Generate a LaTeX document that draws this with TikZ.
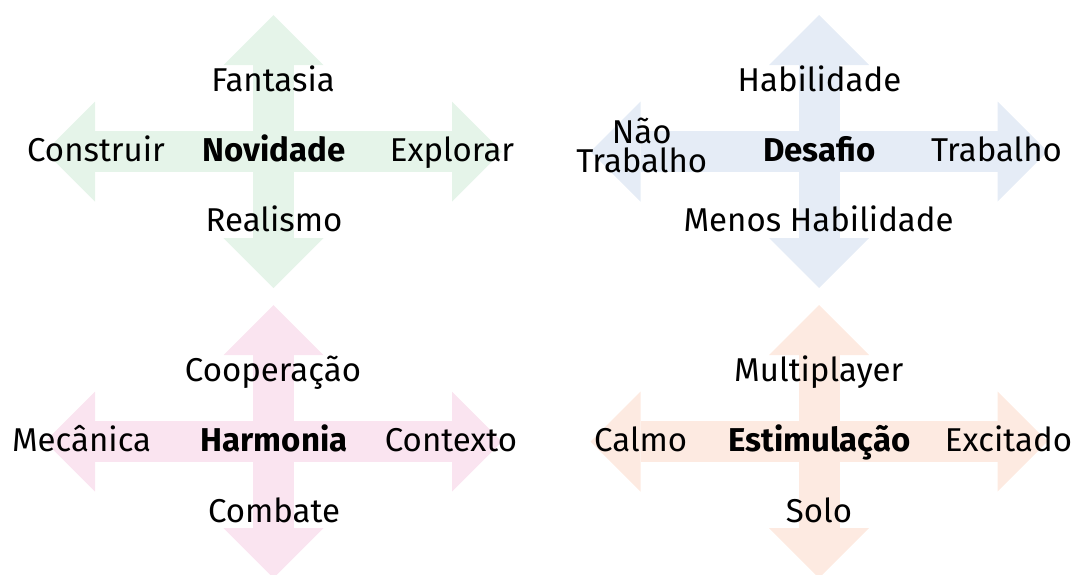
\documentclass[tikz,border=0pt]{standalone}
\usepackage{fontspec}
\setmainfont{Fira Sans}
\usetikzlibrary{arrows.meta}

\definecolor{novgreen}{RGB}{229,244,233}
\definecolor{desblue}{RGB}{229,236,246}
\definecolor{harpink}{RGB}{250,228,240}
\definecolor{estorange}{RGB}{253,234,225}

\begin{document}
\begin{tikzpicture}[x=0.5pt,y=-0.5pt, every node/.style={font=\fontsize{16.5}{14.4}\selectfont, inner sep=0pt, anchor=base}]
			\tikzstyle{bigarrow} = [line width=20.5pt, {Triangle[length=25pt,width=50pt,line width=0pt]}-{Triangle[length=25pt,width=50pt,line width=0pt]}]
			\tikzstyle{title} = [font=\fontsize{16.5}{14.4}\selectfont\bfseries]
			
			\clip (0,0) rectangle (1072,574);
			
			\coordinate (A1) at (45,151.5);
			\coordinate (A2) at (502,151.5);
			\coordinate (A3) at (273.5,15);
			\coordinate (A4) at (273.5,288);
			\coordinate (B1) at (590.5,151.5);
			\coordinate (B2) at (1047.5,151.5);
			\coordinate (B3) at (819,15);
			\coordinate (B4) at (819,288);
			\coordinate (C1) at (45,441.5);
			\coordinate (C2) at (502,441.5);
			\coordinate (C3) at (273.5,305);
			\coordinate (C4) at (273.5,578);
			\coordinate (D1) at (590.5,441.5);
			\coordinate (D2) at (1047.5,441.5);
			\coordinate (D3) at (819,305);
			\coordinate (D4) at (819,578);
			
			\draw [bigarrow, novgreen] (A1) -- (A2);
			\draw [bigarrow, novgreen] (A3) -- (A4);
			\draw [bigarrow, desblue] (B1) -- (B2);
			\draw [bigarrow, desblue] (B3) -- (B4);
			\draw [bigarrow, harpink] (C1) -- (C2);
			\draw [bigarrow, harpink] (C3) -- (C4);
			\draw [bigarrow, estorange] (D1) -- (D2);
			\draw [bigarrow, estorange] (D3) -- (D4);
			
			
			\node [title] (A0) at (274,161.5) {Novidade};
			\node (At) at (273,91.7) {Fantasia};
			\node (Ab) at (274,231.7) {Realismo};
			\node (Al) at (96,161.5) {Construir};
			\node (Ar) at (452,161.5) {Explorar};
			
			\node [title] (B0) at (819.5,161.5) {Desafio};
			\node (Bt) at (819.5,91.7) {Habilidade};
			\node (Bb) at (818.6,231.7) {Menos Habilidade};
			\node [align=center] (Bl) at (641.7,172.7) {Não\\Trabalho};
			\node (Br) at (996.5,161.5) {Trabalho};
			
			\node [title] (C0) at (274,451.7) {Harmonia};
			\node (Ct) at (273,381.7) {Cooperação};
			\node (Cb) at (274,522) {Combate};
			\node (Cl) at (81.6,451.7) {Mecânica};
			\node (Cr) at (451,451.7) {Contexto};
			
			\node [title] (D0) at (819.5,451.7) {Estimulação};
			\node (Dt) at (818.8,381.7) {Multiplayer};
			\node (Db) at (819,522) {Solo};
			\node (Dl) at (640.7,451.7) {Calmo};
			\node (Dr) at (1008.5,451.7) {Excitado};
			
			
			\end{tikzpicture}
\end{document}
